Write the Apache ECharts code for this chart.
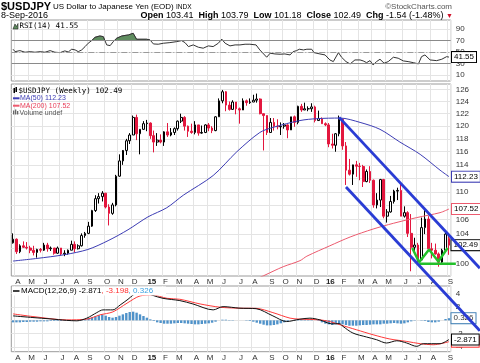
<!DOCTYPE html>
<html><head><meta charset="utf-8">
<script src="https://cdn.jsdelivr.net/npm/echarts@6/dist/echarts.min.js"></script>
<style>html,body{margin:0;padding:0;background:#fff}#c{width:480px;height:363px}</style>
</head><body><div id="c"></div>
<script>
// ---------- DATA ----------
const firstWeekMonday = [2014, 2, 31];   // week of 31-Mar-2014
const weekCount = 128;
// weekly [open, high, low, close]
const ohlc = [
[102.8,104.1,102.7,103.3],[103.3,103.4,101.3,101.6],[101.6,102.6,101.4,102.4],[102.4,103.0,102.1,102.2],
[102.2,102.9,101.9,102.1],[102.1,102.4,101.4,101.8],[101.8,102.4,101.1,101.5],[101.5,102.0,100.8,101.9],
[101.9,102.1,101.5,101.8],[101.8,102.8,101.7,102.5],[102.5,102.8,101.6,102.0],[102.0,102.3,101.7,102.1],
[102.1,102.1,101.2,101.4],[101.4,102.3,101.3,102.1],[102.1,102.1,101.1,101.3],[101.3,101.8,101.0,101.4],
[101.4,101.9,101.2,101.8],[101.8,103.1,101.8,102.6],[102.6,103.0,101.5,102.0],[102.0,102.6,101.9,102.4],
[102.4,104.1,102.3,103.8],[103.8,104.3,103.5,104.1],[104.1,105.7,104.0,105.1],[105.1,107.4,105.0,107.3],
[107.3,109.5,107.1,109.0],[109.0,109.8,108.3,109.3],[109.3,110.1,108.6,109.8],[109.8,109.8,107.6,107.8],
[107.8,108.2,105.2,106.9],[106.9,108.4,106.7,108.1],[108.1,112.5,107.9,112.3],[112.3,115.6,112.2,114.6],
[114.6,116.1,114.0,116.2],[116.2,118.0,115.5,117.7],[117.7,118.9,117.2,118.6],[118.6,121.7,118.6,121.4],
[121.4,121.85,117.8,118.8],[118.8,119.5,115.6,119.5],[119.5,120.8,119.4,120.4],[120.4,121.0,119.2,120.5],
[120.5,120.6,118.0,118.5],[118.5,119.3,115.9,117.5],[117.5,118.9,116.9,117.8],[117.8,118.7,117.3,117.5],
[117.5,119.2,116.9,119.1],[119.1,120.5,118.3,118.6],[118.6,119.7,118.4,119.0],[119.0,119.8,118.6,119.6],
[119.6,120.9,119.3,120.8],[120.8,122.0,120.5,121.4],[121.4,121.6,119.3,120.0],[120.0,120.1,118.3,119.2],
[119.2,120.4,118.8,119.0],[119.0,120.8,118.7,120.2],[120.2,120.2,118.5,118.9],[118.9,120.1,118.8,119.0],
[119.0,120.3,118.9,120.2],[120.2,120.5,119.2,119.7],[119.7,120.0,118.9,119.3],[119.3,121.6,119.2,121.5],
[121.5,124.5,121.5,124.1],[124.1,125.9,123.7,125.6],[125.6,125.7,122.4,123.4],[123.4,124.0,122.5,122.7],
[122.7,124.2,122.6,123.9],[123.9,123.9,121.9,122.8],[122.8,123.0,120.4,122.6],[122.6,124.5,122.6,124.1],
[124.1,124.3,123.3,123.8],[123.8,124.5,123.6,123.9],[123.9,125.1,123.9,124.2],[124.2,125.3,123.8,124.4],
[124.4,124.5,121.9,122.0],[122.0,122.0,116.2,121.7],[121.7,121.7,118.6,119.0],[119.0,121.3,119.0,120.6],
[120.6,121.3,119.3,120.0],[120.0,121.1,119.5,119.9],[119.9,120.6,118.6,120.0],[120.0,120.5,119.6,120.2],
[120.2,120.3,118.1,119.4],[119.4,121.5,119.4,121.5],[121.5,121.7,119.9,120.6],[120.6,123.3,120.3,123.2],
[123.2,123.6,122.3,122.6],[122.6,123.8,122.6,122.8],[122.8,123.2,122.4,122.8],[122.8,123.7,122.3,123.1],
[123.1,123.3,120.6,120.9],[120.9,122.5,120.9,121.2],[121.2,121.4,120.4,120.4],[120.4,120.6,120.0,120.2],
[120.2,120.5,116.7,117.2],[117.2,118.8,116.5,117.0],[117.0,118.9,116.0,118.8],[118.8,121.7,118.4,121.1],
[121.1,121.2,116.3,116.9],[116.9,117.5,111.0,113.2],[113.2,114.9,112.4,112.6],[112.6,113.6,111.0,114.0],
[114.0,114.6,112.2,113.8],[113.8,114.3,111.7,113.75],[113.75,114.0,110.7,111.5],[111.5,113.3,111.4,113.0],
[113.0,113.8,111.3,111.7],[111.7,111.8,107.7,108.1],[108.1,109.8,107.6,108.8],[108.8,111.9,107.8,111.8],
[111.8,111.9,106.2,106.5],[106.5,107.5,105.6,107.1],[107.1,109.4,107.0,108.6],[108.6,110.3,108.3,110.1],
[110.1,110.6,108.8,110.2],[110.2,111.4,106.5,106.5],[106.5,107.9,106.3,107.0],[107.0,107.2,103.6,104.1],
[104.1,106.8,99.0,102.2],[102.2,103.5,101.5,102.5],[102.5,102.8,100.0,100.5],[100.5,106.3,100.5,104.9],
[104.9,107.5,104.0,106.1],[106.1,106.5,101.9,102.0],[102.0,102.8,100.7,101.8],[101.8,102.7,101.2,101.3],
[101.3,101.5,99.6,100.2],[100.2,102.0,99.9,101.8],[101.8,104.2,101.7,104.0],[103.41,103.79,101.18,102.49]
];
// moving averages: [week index, price]
const ma50Points = [[0,100.35],[7,100.7],[15,101.2],[21.8,101.9],[27.7,103.1],[33.5,104.6],[39.3,106.4],[44.8,107.7],[49.6,109.5],[58.3,112.4],[65.2,116.0],[71.9,119.0],[75.7,119.8],[83.6,120.9],[88.5,121.2],[95.3,121.3],[101.1,120.6],[106.9,119.5],[112.7,117.5],[118.6,115.6],[124.4,113.2],[127,112.23]];
const ma200Points = [[70.5,97.9],[73.4,98.5],[78.7,99.6],[83.6,100.4],[85.6,101.0],[92.3,102.4],[98.2,103.6],[104.9,104.7],[110.8,105.5],[117.6,106.3],[124.4,107.0],[127,107.52]];
// RSI(14)
const rsiPoints = [[0,55.2],[0.6,51],[2.0,52.8],[3.5,50],[5.0,51],[6.4,50],[7.9,51],[9.3,50],[10.8,52.8],[12.2,50],[13.7,49.3],[15.1,52.3],[16.1,50.5],[17.1,55.2],[18.1,54],[19.0,51],[20.0,54],[21.0,59.8],[21.9,65.6],[22.9,70.2],[23.9,76],[25.3,78.3],[26.3,77.1],[27.3,62.7],[28.3,61.5],[29.2,68.4],[30.2,74.3],[31.7,78.3],[33.6,80.1],[35.0,83],[36.0,72.6],[38.9,72.6],[39.9,71.4],[40.9,64.4],[42.3,63.9],[43.8,65.6],[45.7,66.7],[47.7,68.4],[49.1,70.2],[50.1,66.7],[51.1,59.8],[52.5,62.7],[54.0,58.7],[55.4,57],[56.9,61],[58.3,59.8],[59.8,65.6],[60.8,72.6],[61.8,65.6],[63.2,61],[64.7,62.7],[66.1,62.7],[67.6,63.9],[69.0,63.9],[70.8,62.7],[71.9,54],[73.9,41.3],[74.9,48.3],[76.3,47],[77.8,46.5],[79.2,47],[80.7,45.3],[81.6,51],[82.6,52.8],[83.4,55.2],[84.6,54],[85.6,55.2],[87.0,55.2],[87.7,49.3],[89.4,47],[90.9,45.3],[92.3,36.6],[93.3,33.7],[94.8,49.3],[95.7,41.3],[97.0,33.7],[98.2,29.7],[99.6,36.6],[101.1,36.6],[102.0,34.9],[103.0,31.9],[104.0,35.4],[104.9,27.9],[105.9,33.7],[106.9,37.8],[108.1,30.9],[109.3,33.7],[110.8,41.3],[112.2,39.6],[113.7,34.9],[115.1,33.7],[116.6,31.9],[118.1,29.7],[119.0,42.3],[120.0,45.3],[121.5,36.6],[123.4,35.4],[124.9,37.8],[126.3,42.3],[127,41.55]];
// MACD(12,26,9)
const macdPoints = [[0,0.67],[5.8,0.42],[10.8,0.22],[15.6,0.0],[18.6,-0.07],[21.5,0.33],[24.4,1.16],[26.2,1.57],[29.1,1.57],[31.2,2.3],[33.5,3.16],[35.0,3.8],[37.0,4.4],[38.5,4.2],[40.4,3.8],[43.7,3.3],[48.6,2.96],[52.4,2.46],[58.3,1.57],[61.2,2.06],[66.1,1.82],[70.8,1.75],[75.7,0.67],[79.7,-0.18],[83.6,0.18],[86.5,0.33],[89.4,0.07],[92.8,-0.52],[95.1,-0.5],[96.1,-0.9],[99.0,-1.9],[103.0,-2.5],[105.9,-2.9],[108.8,-3.4],[111.8,-3.06],[114.7,-3.4],[117.6,-3.9],[119.5,-3.5],[124.4,-3.5],[127,-2.871]];
const signalPoints = [[0,0.97],[5.8,0.57],[15.6,0.07],[21.5,0.18],[25.3,0.82],[29.1,1.27],[33.2,2.57],[37.0,3.66],[40.5,3.8],[44.9,3.3],[48.6,3.16],[54.5,2.46],[60.3,1.97],[66.1,1.82],[70.8,1.8],[75.7,1.16],[80.7,0.33],[83.6,0.18],[89.4,0.07],[92.3,-0.18],[95.3,-0.67],[100.1,-1.42],[104.9,-2.16],[109.8,-2.8],[114.7,-3.16],[118.6,-3.5],[122.4,-3.66],[127,-3.198]];
const histogram = [
-0.3,-0.3,-0.3,-0.25,-0.25,-0.2,-0.2,-0.2,-0.15,-0.15,
-0.15,-0.1,-0.1,-0.1,-0.1,-0.05,-0.05,-0.05,0,0,
0.05,0.15,0.3,0.45,0.6,0.75,0.85,0.7,0.5,0.4,
0.5,0.7,0.9,1.1,1.25,1.3,1.15,0.9,0.65,0.4,
0.15,-0.1,-0.3,-0.4,-0.5,-0.5,-0.5,-0.45,-0.4,-0.4,
-0.45,-0.5,-0.55,-0.6,-0.6,-0.55,-0.5,-0.45,-0.35,-0.2,
0.0,0.1,0.1,0.05,0.05,0.0,0.0,0.0,-0.05,-0.1,
-0.2,-0.35,-0.5,-0.65,-0.75,-0.75,-0.7,-0.6,-0.45,-0.3,
-0.15,0.0,0.1,0.15,0.15,0.15,0.1,0.05,0.0,-0.1,
-0.3,-0.5,-0.6,-0.7,-0.6,-0.55,-0.6,-0.7,-0.8,-0.8,
-0.8,-0.75,-0.7,-0.7,-0.65,-0.6,-0.6,-0.6,-0.5,-0.5,
-0.45,-0.4,-0.45,-0.5,-0.45,-0.3,-0.15,-0.05,0.0,0.05,
-0.1,-0.25,-0.3,-0.3,-0.2,0.0,0.2,0.326];
// drawn annotations: [week index, price]
const upperChannel = [[95,121.4],[136,99.4]];
const lowerChannel = [[97,110.7],[136,91.5]];
const wPattern = [[116.3,102.1],[118.3,100.2],[121.2,101.9],[123.9,100.3],[126.6,102.1]];
const supportLine = [[118.3,100.0],[129,100.0]];
// tick labels
const priceTicks = [100,102,104,106,108,110,112,114,116,118,120,122,124,126];
const rsiTicks = [10,30,50,70,90];
const macdTicks = [-4,-2,0,2,4];
const monthLetters = ['J','F','M','A','M','J','J','A','S','O','N','D'];
// header values
const lastQuote = {open:'103.41', high:'103.79', low:'101.18', close:'102.49', chg:'-1.54 (-1.48%)', date:'8-Sep-2016'};

// ---------- BUILD ----------
const weeks = [];
for (let i = 0; i < weekCount; i++) {
  const d = new Date(Date.UTC(firstWeekMonday[0], firstWeekMonday[1], firstWeekMonday[2]) + i * 7 * 86400000);
  weeks.push(d.toISOString().slice(0, 10));
}
const isMonthStart = i => +weeks[i].slice(8, 10) <= 7;
const monthLabel = v => { const m = +v.slice(5, 7); return m === 1 ? '{b|' + v.slice(2, 4) + '}' : monthLetters[m - 1]; };
const L = Math.log;
const RED = '#e3173e';
const FONT = 'Liberation Sans';

const candleData = ohlc.map((r, i) => {
  const [o, h, l, c] = r;
  const prev = i > 0 ? ohlc[i - 1][3] : o;
  const edge = c >= prev ? '#000' : RED;
  const fill = c >= o ? '#fff' : edge;
  return { value: [L(o), L(c), L(l), L(h)], itemStyle: { color: fill, color0: fill, borderColor: edge, borderColor0: edge } };
});
const toLn = pts => pts.map(p => [p[0], L(p[1])]);

// layout
const GL = 11.3, GW = 439.4;
const MAIN_TOP = 84, MAIN_H = 192;
const PMIN = L(98.38), PMAX = L(126.9);
// overlay grid for hand-drawn annotations: same scales as the price panel, extended to the canvas edge
const OV_W = 480 - GL, OV_H = 363 - MAIN_TOP;
const ovXMax = -0.5 + weekCount * OV_W / GW;
const ovYMin = PMAX - (PMAX - PMIN) * OV_H / MAIN_H;

const catAxis = (gi, showLabels) => ({
  type: 'category', gridIndex: gi, data: weeks, boundaryGap: true,
  axisLine: { show: false }, axisTick: { show: false },
  axisLabel: { show: showLabels, interval: i => isMonthStart(i), formatter: monthLabel, fontSize: 8, color: '#333',
    fontFamily: FONT, margin: 2, padding: [0, 0, 0, 3], rich: { b: { fontWeight: 'bold', fontSize: 8, color: '#222', fontFamily: FONT } } },
  splitLine: { show: true, interval: i => isMonthStart(i), lineStyle: { color: '#e4e4e4', width: 1 } }
});
const idxAxis = gi => ({ type: 'value', gridIndex: gi, min: -0.5, max: weekCount - 0.5, show: false });
const tag = (border, color) => ({ show: true, distance: 3, fontSize: 8, fontFamily: FONT, color: color || '#000',
  backgroundColor: '#fff', borderColor: border, borderWidth: 1, padding: [1, 2, 0, 2], lineHeight: 9 });

const gridBase = { left: GL, width: GW, show: true, borderColor: '#9a9a9a', borderWidth: 1, backgroundColor: 'transparent', containLabel: false, outerBoundsMode: 'none' };

const option = {
  animation: false,
  backgroundColor: '#fff',
  grid: [
    Object.assign({}, gridBase, { top: 20, height: 61 }),
    Object.assign({}, gridBase, { top: MAIN_TOP, height: MAIN_H }),
    Object.assign({}, gridBase, { top: 286, height: 65.7 }),
    { left: GL, width: GW, top: 20, height: 20.72, show: false, containLabel: false, outerBoundsMode: 'none' },
    { left: GL, width: OV_W, top: MAIN_TOP, height: OV_H, show: false, containLabel: false, outerBoundsMode: 'none' }
  ],
  xAxis: [catAxis(0, false), catAxis(1, true), catAxis(2, true), idxAxis(0), idxAxis(1), idxAxis(2), idxAxis(3),
    { type: 'value', gridIndex: 4, min: -0.5, max: ovXMax, show: false }],
  yAxis: [
    { type: 'value', gridIndex: 0, position: 'right', min: 0, max: 106,
      axisLine: { show: false }, axisTick: { show: false, customValues: rsiTicks },
      axisLabel: { customValues: rsiTicks, fontSize: 8, color: '#333', fontFamily: FONT, margin: 5 },
      splitLine: { show: true, customValues: rsiTicks, lineStyle: { color: '#e4e4e4' } } },
    { type: 'value', gridIndex: 1, position: 'right', min: PMIN, max: PMAX,
      axisLine: { show: false }, axisTick: { show: false, customValues: priceTicks.map(L) },
      axisLabel: { customValues: priceTicks.map(L), formatter: v => String(Math.round(Math.exp(v))), fontSize: 8, color: '#333', fontFamily: FONT, margin: 5 },
      splitLine: { show: true, customValues: priceTicks.map(L), lineStyle: { color: '#e4e4e4' } } },
    { type: 'value', gridIndex: 2, position: 'right', min: -4.7, max: 5.15,
      axisLine: { show: false }, axisTick: { show: false, customValues: macdTicks },
      axisLabel: { customValues: macdTicks, fontSize: 8, color: '#333', fontFamily: FONT, margin: 5 },
      splitLine: { show: true, customValues: macdTicks, lineStyle: { color: '#e4e4e4' } } },
    { type: 'value', gridIndex: 3, min: 70, max: 106, show: false },
    { type: 'value', gridIndex: 4, min: ovYMin, max: PMAX, show: false }
  ],
  series: [
    { name: 'rsiFill', type: 'line', xAxisIndex: 6, yAxisIndex: 3, data: rsiPoints, symbol: 'none', clip: true,
      lineStyle: { width: 0.5, color: '#333' }, areaStyle: { color: '#5f8d5f', origin: 'start', opacity: 1 }, z: 2, silent: true },
    { name: 'RSI', type: 'line', xAxisIndex: 3, yAxisIndex: 0, data: rsiPoints, symbol: 'none',
      lineStyle: { width: 1, color: '#333' }, z: 4,
      markLine: { silent: true, symbol: 'none', label: { show: false },
        data: [ { yAxis: 70, lineStyle: { color: '#8a8a8a', width: 1, type: 'solid' } },
                { yAxis: 30, lineStyle: { color: '#8a8a8a', width: 1, type: 'solid' } },
                { yAxis: 50, lineStyle: { color: '#9a9a9a', width: 1, type: [6, 2, 1, 2] } } ] },
      endLabel: Object.assign(tag('#000'), { formatter: p => p.value[1].toFixed(2) }) },
    { name: 'USDJPY', type: 'candlestick', xAxisIndex: 1, yAxisIndex: 1, data: candleData, barWidth: 2.2,
      itemStyle: { borderWidth: 1 }, z: 3,
      markPoint: { silent: true, symbol: 'circle', symbolSize: 1, itemStyle: { color: 'rgba(0,0,0,0)' },
        data: [{ coord: [weeks[weekCount - 1], L(ohlc[weekCount - 1][3])], value: ohlc[weekCount - 1][3] }],
        label: Object.assign(tag('#000'), { position: 'right', distance: 2, formatter: p => p.value.toFixed(2) }) } },
    { name: 'MA50', type: 'line', xAxisIndex: 4, yAxisIndex: 1, data: toLn(ma50Points), symbol: 'none', smooth: 0.3,
      lineStyle: { width: 1, color: '#3c3cb4' }, z: 4,
      endLabel: Object.assign(tag('#3c3cb4'), { formatter: p => Math.exp(p.value[1]).toFixed(2) }) },
    { name: 'MA200', type: 'line', xAxisIndex: 4, yAxisIndex: 1, data: toLn(ma200Points), symbol: 'none', smooth: 0.3,
      lineStyle: { width: 1, color: '#ec5a6e' }, z: 4,
      endLabel: Object.assign(tag('#ec5a6e'), { formatter: p => Math.exp(p.value[1]).toFixed(2) }) },
    { name: 'hist', type: 'bar', xAxisIndex: 2, yAxisIndex: 2, data: histogram, barWidth: 2.4,
      itemStyle: { color: '#4f92c9' }, z: 2,
      markPoint: { silent: true, symbol: 'circle', symbolSize: 1, itemStyle: { color: 'rgba(0,0,0,0)' },
        data: [{ coord: [weeks[weekCount - 1], histogram[weekCount - 1]], value: histogram[weekCount - 1] }],
        label: Object.assign(tag('#3f7fb5', '#333'), { position: 'right', distance: 2, formatter: p => p.value.toFixed(3) }) } },
    { name: 'signal', type: 'line', xAxisIndex: 5, yAxisIndex: 2, data: signalPoints, symbol: 'none', smooth: 0.3,
      lineStyle: { width: 1, color: '#ff3a3a' }, z: 4,
      endLabel: Object.assign(tag('#ff3a3a'), { formatter: p => p.value[1].toFixed(3) }) },
    { name: 'macd', type: 'line', xAxisIndex: 5, yAxisIndex: 2, data: macdPoints, symbol: 'none', smooth: 0.3,
      lineStyle: { width: 1, color: '#111' }, z: 5,
      endLabel: Object.assign(tag('#000'), { formatter: p => p.value[1].toFixed(3) }) },
    // annotations on the overlay grid (same price / week scales as the price panel)
    { name: 'upper', type: 'line', xAxisIndex: 7, yAxisIndex: 4, data: toLn(upperChannel), symbol: 'none',
      lineStyle: { width: 2.8, color: '#2a3cd4' }, z: 20, silent: true },
    { name: 'lower', type: 'line', xAxisIndex: 7, yAxisIndex: 4, data: toLn(lowerChannel), symbol: 'none',
      lineStyle: { width: 2.8, color: '#2a3cd4' }, z: 20, silent: true },
    { name: 'W', type: 'line', xAxisIndex: 7, yAxisIndex: 4, data: toLn(wPattern), symbol: 'none',
      lineStyle: { width: 2.5, color: '#22c02a' }, z: 19, silent: true },
    { name: 'support', type: 'line', xAxisIndex: 7, yAxisIndex: 4, data: toLn(supportLine), symbol: 'none',
      lineStyle: { width: 2.5, color: '#22c02a' }, z: 19, silent: true }
  ],
  graphic: [
    { type: 'text', z: 100, style: { x: 1, y: 7, verticalAlign: 'middle', text: '$USDJPY', font: 'bold 11px ' + FONT, fill: '#000' } },
    { type: 'text', z: 100, style: { x: 53, y: 7, verticalAlign: 'middle', text: 'US Dollar to Japanese Yen (EOD)', font: '8px ' + FONT, fill: '#000' } },
    { type: 'text', z: 100, style: { x: 176, y: 7.3, verticalAlign: 'middle', text: 'INDX', font: '6.5px ' + FONT, fill: '#000' } },
    { type: 'text', z: 100, style: { x: 452, y: 6.5, align: 'right', verticalAlign: 'middle', text: '\u00A9StockCharts.com', font: '8px ' + FONT, fill: '#555' } },
    { type: 'text', z: 100, style: { x: 1, y: 15.5, verticalAlign: 'middle', text: lastQuote.date, font: '9px ' + FONT, fill: '#000' } },
    { type: 'text', z: 100, style: { x: 453, y: 16, align: 'right', verticalAlign: 'middle',
      text: '{b|Open} ' + lastQuote.open + '  {b|High} ' + lastQuote.high + '  {b|Low} ' + lastQuote.low + '  {b|Close} ' + lastQuote.close + '  {b|Chg} ' + lastQuote.chg + ' {r|\u25BC}',
      font: '9px ' + FONT, fill: '#000',
      rich: { b: { font: 'bold 9px ' + FONT, fill: '#000' }, r: { font: '7px ' + FONT, fill: '#d0102a' } } } },
    // RSI legend
    { type: 'polygon', z: 100, shape: { points: [[13, 29], [15, 24], [16.5, 26.5], [18, 23.5], [18, 29]] }, style: { fill: '#5f8d5f', stroke: '#222', lineWidth: 0.6 } },
    { type: 'text', z: 100, style: { x: 19.5, y: 26.5, verticalAlign: 'middle', text: 'RSI(14) 41.55', font: '7.5px "DejaVu Sans Mono"', fill: '#000' } },
    // main legend
    { type: 'rect', z: 100, shape: { x: 13.5, y: 88, width: 1.5, height: 5 }, style: { fill: '#000' } },
    { type: 'rect', z: 100, shape: { x: 15.5, y: 87, width: 1.5, height: 5 }, style: { fill: '#000' } },
    { type: 'text', z: 100, style: { x: 18.5, y: 90.7, verticalAlign: 'middle', text: '$USDJPY (Weekly) 102.49', font: '7.5px "DejaVu Sans Mono"', fill: '#000' } },
    { type: 'line', z: 100, shape: { x1: 13, y1: 98.3, x2: 19.5, y2: 98.3 }, style: { stroke: '#3c3cb4', lineWidth: 2 } },
    { type: 'text', z: 100, style: { x: 20, y: 98.5, verticalAlign: 'middle', text: 'MA(50) 112.23', font: '7px ' + FONT, fill: '#3c3cb4' } },
    { type: 'line', z: 100, shape: { x1: 13, y1: 105.7, x2: 19.5, y2: 105.7 }, style: { stroke: '#ec5a6e', lineWidth: 2 } },
    { type: 'text', z: 100, style: { x: 20, y: 105.9, verticalAlign: 'middle', text: 'MA(200) 107.52', font: '7px ' + FONT, fill: '#e8405a' } },
    { type: 'rect', z: 100, shape: { x: 13, y: 110.5, width: 1.3, height: 4 }, style: { fill: '#666' } },
    { type: 'rect', z: 100, shape: { x: 15, y: 109.5, width: 1.3, height: 5 }, style: { fill: '#666' } },
    { type: 'rect', z: 100, shape: { x: 17, y: 111, width: 1.3, height: 3.5 }, style: { fill: '#666' } },
    { type: 'text', z: 100, style: { x: 19.5, y: 112.9, verticalAlign: 'middle', text: 'Volume undef', font: '7px ' + FONT, fill: '#555' } },
    // MACD legend with white backdrop
    { type: 'rect', z: 90, shape: { x: 12, y: 286.6, width: 154, height: 9 }, style: { fill: '#fff' } },
    { type: 'line', z: 100, shape: { x1: 13, y1: 291, x2: 19.5, y2: 291 }, style: { stroke: '#000', lineWidth: 1.5 } },
    { type: 'text', z: 100, style: { x: 21, y: 291, verticalAlign: 'middle',
      text: 'MACD(12,26,9) -2.871{r|, -3.198}{c|, 0.326}', font: '8px ' + FONT, fill: '#000',
      rich: { r: { font: '8px ' + FONT, fill: '#ff3030' }, c: { font: '8px ' + FONT, fill: '#3aa0e0' } } } }
  ]
};
const chart = echarts.init(document.getElementById('c'), null, { renderer: 'canvas', width: 480, height: 363 });
chart.setOption(option);
</script>
</body></html>
